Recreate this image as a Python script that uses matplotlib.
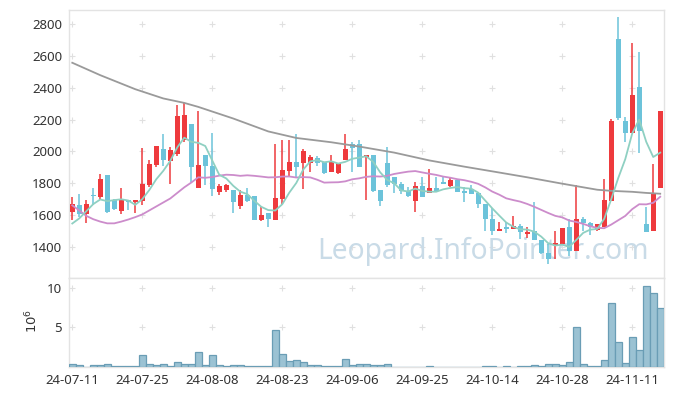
import numpy as np
import pandas as pd
import matplotlib
matplotlib.use("Agg")
import matplotlib.pyplot as plt

plt.rcParams['font.family'] = ['Noto Sans', 'DejaVu Sans']

# ---------------- data ----------------
dates = (
    ["24-07-%02d" % d for d in [11, 12, 15, 16, 17, 18, 19, 22, 23, 24, 25, 26, 29, 30, 31]] +
    ["24-08-%02d" % d for d in [1, 2, 5, 6, 7, 8, 9, 12, 13, 14, 16, 19, 20, 21, 22, 23, 26, 27, 28, 29, 30]] +
    ["24-09-%02d" % d for d in [2, 3, 4, 5, 6, 9, 10, 11, 12, 13, 19, 20, 23, 24, 25, 26, 27, 30]] +
    ["24-10-%02d" % d for d in [2, 4, 7, 8, 10, 11, 14, 15, 16, 17, 18, 21, 22, 23, 24, 25, 28, 29, 30, 31]] +
    ["24-11-%02d" % d for d in [1, 4, 5, 6, 7, 8, 11, 12, 13, 14, 15]]
)

opens = [1619, 1662, 1609, 1726, 1714, 1850, 1697, 1626, 1693, 1680,
         1689, 1787, 1913, 2018, 1940, 1983, 2070, 2175, 1773, 1976,
         1907, 1745, 1756, 1756, 1661, 1724, 1718, 1567, 1613, 1571,
         1703, 1877, 1934, 1928, 1928, 1961, 1934, 1871, 1867, 1949,
         2049, 2049, 1965, 1976, 1756, 1930, 1840, 1793, 1752, 1689,
         1781, 1739, 1773, 1806, 1785, 1823, 1752, 1764, 1739, 1668,
         1579, 1500, 1525, 1513, 1535, 1483, 1500, 1445, 1366, 1416,
         1420, 1525, 1374, 1578, 1550, 1508, 1525, 1689, 2704, 2192,
         2116, 2402, 1542, 1500, 1772]
highs = [1714, 1731, 1697, 1773, 1861, 1850, 1703, 1773, 1697, 1693,
         2024, 1944, 2033, 2112, 2028, 2290, 2305, 2175, 2255, 1976,
         2117, 1798, 1798, 1756, 1760, 1773, 1718, 1651, 1613, 2045,
         2070, 2070, 2112, 2018, 1976, 1970, 1934, 1976, 1930, 2108,
         2060, 2074, 1976, 1976, 1756, 2028, 1840, 1808, 1777, 1808,
         1840, 1892, 1840, 1840, 1840, 1823, 1777, 1787, 1739, 1668,
         1647, 1557, 1557, 1592, 1546, 1529, 1682, 1445, 1420, 1500,
         1521, 1578, 1787, 1588, 1557, 1542, 1829, 2207, 2842, 2218,
         2683, 2626, 1651, 1923, 2253]
lows = [1567, 1588, 1550, 1662, 1697, 1613, 1634, 1609, 1634, 1615,
        1662, 1777, 1903, 1907, 1798, 1970, 2060, 1808, 1773, 1787,
        1718, 1724, 1745, 1613, 1640, 1682, 1567, 1563, 1525, 1571,
        1672, 1844, 1835, 1766, 1871, 1907, 1856, 1871, 1861, 1949,
        1871, 1903, 1697, 1745, 1661, 1777, 1739, 1735, 1714, 1619,
        1714, 1739, 1752, 1793, 1777, 1743, 1682, 1731, 1647, 1504,
        1473, 1500, 1487, 1513, 1452, 1458, 1445, 1357, 1294, 1326,
        1420, 1347, 1374, 1504, 1473, 1504, 1525, 1689, 2200, 2060,
        2116, 1991, 1494, 1500, 1772]
closes = [1672, 1605, 1668, 1720, 1829, 1620, 1638, 1693, 1682, 1693,
          1798, 1923, 2033, 1945, 2007, 2221, 2228, 1903, 1913, 1907,
          1766, 1781, 1787, 1682, 1724, 1689, 1571, 1599, 1578, 1710,
          1886, 1934, 1903, 2001, 1965, 1928, 1865, 1934, 1930, 2018,
          2024, 1903, 1976, 1752, 1689, 1787, 1798, 1752, 1718, 1781,
          1714, 1773, 1752, 1793, 1823, 1743, 1739, 1735, 1668, 1575,
          1500, 1513, 1515, 1535, 1494, 1494, 1445, 1361, 1326, 1424,
          1521, 1374, 1578, 1550, 1525, 1542, 1693, 2192, 2213, 2116,
          2353, 2129, 1494, 1735, 2253]
volumes = [0.30, 0.17, 0.02, 0.17, 0.17, 0.30, 0.04, 0.04, 0.04, 0.04,
           1.44, 0.30, 0.17, 0.30, 0.04, 0.55, 0.30, 0.30, 1.82, 0.17,
           1.44, 0.17, 0.04, 0.17, 0.17, 0.04, 0.04, 0.04, 0.04, 4.62,
           1.57, 0.68, 0.80, 0.55, 0.17, 0.17, 0.04, 0.04, 0.04, 0.93,
           0.17, 0.30, 0.30, 0.17, 0.17, 0.30, 0.02, 0.02, 0.02, 0.02,
           0.02, 0.05, 0.02, 0.02, 0.02, 0.02, 0.02, 0.02, 0.02, 0.05,
           0.05, 0.02, 0.05, 0.02, 0.05, 0.05, 0.17, 0.05, 0.30, 0.30,
           0.17, 0.55, 5.00, 0.30, 0.05, 0.05, 0.80, 8.05, 3.10, 0.42,
           3.73, 2.08, 10.20, 9.30, 7.40]  # x 10^6

# moving-average values that need data from before the window
ma5_head = [1548, 1580, 1625, 1670]
ma20_head = [1662, 1630, 1596, 1575, 1560, 1549, 1549, 1560, 1573, 1588,
             1605, 1630, 1655, 1680, 1705, 1740, 1775, 1805, 1838]
ma_long_idx = [0, 4, 9, 13, 16, 18, 23, 28, 32, 37, 41, 46, 51, 56, 61, 65, 70, 75, 77, 80, 82, 84]
ma_long_val = [2557, 2479, 2391, 2333, 2305, 2280, 2207, 2126, 2085, 2058, 2031, 1993, 1944,
               1905, 1868, 1838, 1798, 1760, 1753, 1747, 1740, 1735]

price_ticks = [1400, 1600, 1800, 2000, 2200, 2400, 2600, 2800]
vol_ticks = [5, 10]
date_tick_idx = [0, 10, 20, 30, 40, 50, 60, 70, 80]

# ---------------- styling ----------------
UP = '#ee3a3d'
DOWN = '#6cc3da'
TXT = '#333333'
GRIDC = '#e0e0e0'
SPINE = '#e3e3e3'

fig = plt.figure(figsize=(6.73, 3.96), dpi=100)
ax1 = fig.add_axes([0.1025, 0.2992, 0.8834, 0.6755])
ax2 = fig.add_axes([0.1025, 0.0740, 0.8834, 0.2252])

n = len(closes)
x = np.arange(n)
o = np.array(opens, float); h = np.array(highs, float)
l = np.array(lows, float); c = np.array(closes, float)

# candles
cols = [UP if c[i] >= o[i] else DOWN for i in range(n)]
ax1.vlines(x, l, h, colors=cols, linewidth=1.1, zorder=3)
ax1.bar(x, np.maximum(np.abs(c - o), 4), bottom=np.minimum(o, c), width=0.72,
        color=cols, linewidth=0, zorder=4)

# moving averages
cs = pd.Series(c)
ma5 = cs.rolling(5).mean().to_numpy()
ma5[:4] = ma5_head
ma20 = cs.rolling(20).mean().to_numpy()
ma20[:19] = ma20_head
ax1.plot(ma_long_idx, ma_long_val, color='#9a9a9a', lw=1.3, zorder=5)
ax1.plot(x, ma20, color='#cc8ccb', lw=1.3, zorder=5)
ax1.plot(x, ma5, color='#8fd0c2', lw=1.3, zorder=5)

# watermark
ax1.text(0.697, 0.098, 'Leopard.InfoPointer.com', transform=ax1.transAxes,
         ha='center', va='center', fontsize=20.3, color='#c9dbe7', zorder=2)

ax1.set_xlim(-0.47, n - 0.53)
ax1.set_ylim(1209, 2888)
ax1.set_yticks(price_ticks)
ax1.set_xticks(date_tick_idx)
ax1.set_xticklabels([])

# grid "+" markers
gx, gy = np.meshgrid(date_tick_idx, price_ticks)
ax1.plot(gx.ravel(), gy.ravel(), ls='none', marker='+', ms=4, mew=0.8, color=GRIDC, zorder=1)

# volume
ax2.bar(x, volumes, width=1.0, color='#9bc2d3', edgecolor='#6a9db5', linewidth=0.9, zorder=3)
ax2.set_xlim(-0.47, n - 0.53)
ax2.set_ylim(0, 11.27)
ax2.set_yticks(vol_ticks)
ax2.set_yticklabels([str(v) for v in vol_ticks])
ax2.set_xticks(date_tick_idx)
ax2.set_xticklabels([dates[i] for i in date_tick_idx])
gx2, gy2 = np.meshgrid(date_tick_idx, vol_ticks)
ax2.plot(gx2.ravel(), gy2.ravel(), ls='none', marker='+', ms=4, mew=0.8, color=GRIDC, zorder=1)
fig.text(32 / 673, 1 - 321 / 396, r'$10^6$', rotation=90, ha='center', va='center',
         fontsize=9.5, color=TXT)

for ax in (ax1, ax2):
    for sp in ax.spines.values():
        sp.set_color(SPINE)
        sp.set_linewidth(1.0)
    ax.tick_params(length=0, labelsize=9.5, labelcolor=TXT, pad=5)

fig.savefig('out.png', dpi=100)
